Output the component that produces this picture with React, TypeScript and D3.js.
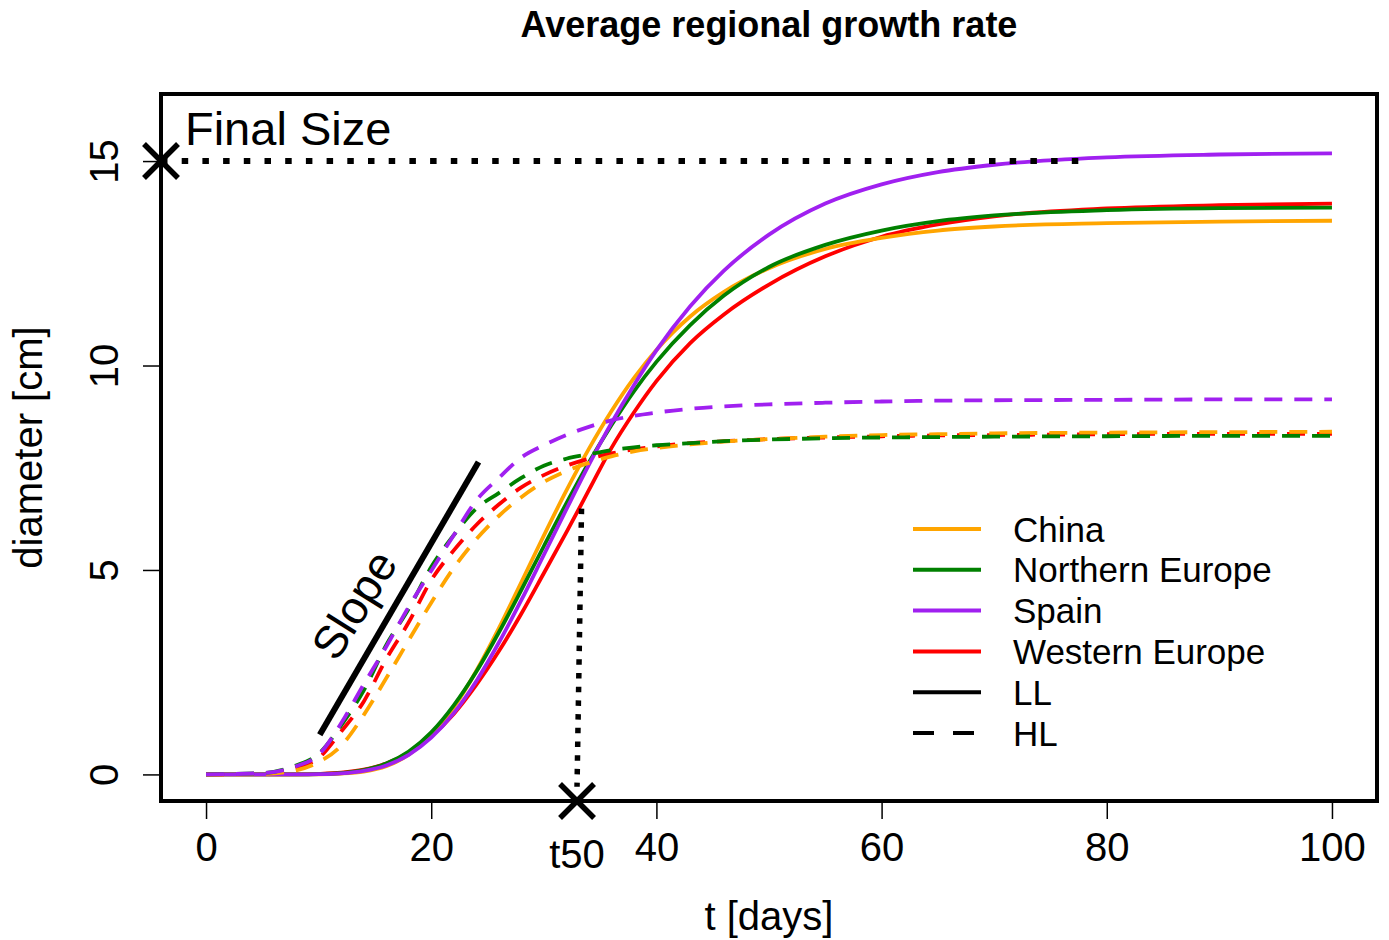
import { useEffect, useRef } from 'react'
import * as d3 from 'd3'

// time grid (days) the curves were read at
const days = [0, 5, 8, 10, 12, 14, 16, 18, 20, 22, 24, 26, 28, 30, 32, 34, 36, 38, 40, 43, 46, 50, 55, 60, 65, 70, 80, 90, 100]

// LL (solid) diameters, cm
const chinaLL = [0, 0, 0, 0.003, 0.02, 0.07, 0.2, 0.48, 0.95, 1.64, 2.53, 3.57, 4.7, 5.84, 6.94, 7.96, 8.88, 9.69, 10.38, 11.2, 11.8, 12.38, 12.85, 13.12, 13.3, 13.4, 13.48, 13.52, 13.54]
const northernEuropeLL = [0, 0, 0.001, 0.008, 0.034, 0.105, 0.265, 0.56, 1.03, 1.69, 2.51, 3.47, 4.51, 5.58, 6.63, 7.63, 8.54, 9.37, 10.09, 10.99, 11.71, 12.41, 12.95, 13.3, 13.53, 13.67, 13.8, 13.85, 13.86]
const spainLL = [0, 0, 0.001, 0.007, 0.028, 0.088, 0.22, 0.48, 0.9, 1.5, 2.28, 3.22, 4.26, 5.37, 6.48, 7.57, 8.59, 9.52, 10.37, 11.45, 12.32, 13.2, 13.96, 14.43, 14.73, 14.91, 15.09, 15.16, 15.19]
const westernEuropeLL = [0, 0, 0.003, 0.013, 0.042, 0.116, 0.265, 0.53, 0.93, 1.48, 2.19, 3.01, 3.93, 4.92, 5.92, 6.95, 7.98, 8.85, 9.62, 10.55, 11.25, 11.98, 12.67, 13.15, 13.45, 13.65, 13.84, 13.92, 13.96]

// HL (dashed) diameters, cm
const chinaHL = [0, 0.01, 0.1, 0.3, 0.7, 1.45, 2.35, 3.28, 4.2, 5.05, 5.75, 6.32, 6.78, 7.15, 7.42, 7.62, 7.78, 7.9, 7.98, 8.07, 8.14, 8.2, 8.26, 8.3, 8.32, 8.34, 8.36, 8.37, 8.38]
const northernEuropeHL = [0, 0.03, 0.22, 0.5, 1.2, 2.05, 3.16, 4.05, 5.07, 5.85, 6.5, 6.88, 7.25, 7.55, 7.72, 7.83, 7.93, 8.0, 8.05, 8.1, 8.15, 8.19, 8.22, 8.24, 8.25, 8.26, 8.27, 8.28, 8.28]
const spainHL = [0, 0.03, 0.2, 0.48, 1.25, 2.2, 3.12, 4.1, 4.98, 5.85, 6.7, 7.25, 7.75, 8.05, 8.3, 8.5, 8.66, 8.77, 8.85, 8.94, 9.0, 9.05, 9.09, 9.12, 9.14, 9.15, 9.16, 9.17, 9.17]
const westernEuropeHL = [0, 0.02, 0.17, 0.4, 1.05, 1.78, 2.82, 3.72, 4.75, 5.48, 6.1, 6.6, 7.02, 7.32, 7.55, 7.72, 7.85, 7.95, 8.02, 8.1, 8.15, 8.2, 8.24, 8.27, 8.29, 8.3, 8.32, 8.33, 8.33]

const regions = ['China', 'Northern Europe', 'Spain', 'Western Europe']
const regionColors = ['#FFA500', '#008000', '#A020F0', '#FF0000']
const xTicks = [0, 20, 40, 60, 80, 100]
const yTicks = [0, 5, 10, 15]

// annotations
const finalSize = 15
const finalSizeEnd = 78
const t50 = 32.95
const t50Top = 6.5
const slopeStart = [10.1, 0.97]
const slopeEnd = [24.2, 7.64]

const W = 1389
const H = 940
const font = '"Liberation Sans", Arial, Helvetica, sans-serif'

const App = () => {
  const svgRef = useRef(null)

  useEffect(() => {
    const svg = d3.select(svgRef.current)
    svg.selectAll('*').remove()

    const x = d3.scaleLinear().domain([-4, 104]).range([161, 1377])
    const y = d3.scaleLinear().domain([-0.65, 16.64]).range([801, 94])

    svg.append('rect').attr('width', W).attr('height', H).attr('fill', 'white')

    // title
    svg
      .append('text')
      .attr('x', (x(-4) + x(104)) / 2)
      .attr('y', 37)
      .attr('text-anchor', 'middle')
      .style('font', `bold 36px ${font}`)
      .text('Average regional growth rate')

    const line = d3
      .line<number>()
      .x((d, i) => x(days[i]))
      .y((d) => y(d))
      .curve(d3.curveMonotoneX)

    const solid = [chinaLL, northernEuropeLL, spainLL, westernEuropeLL]
    const dashed = [chinaHL, northernEuropeHL, spainHL, westernEuropeHL]
    const drawOrder = [3, 0, 1, 2] // red, orange, green, purple

    drawOrder.forEach((k) => {
      svg
        .append('path')
        .attr('d', line(solid[k]))
        .attr('fill', 'none')
        .attr('stroke', regionColors[k])
        .attr('stroke-width', 3.8)
    })
    drawOrder.forEach((k) => {
      svg
        .append('path')
        .attr('d', line(dashed[k]))
        .attr('fill', 'none')
        .attr('stroke', regionColors[k])
        .attr('stroke-width', 3.8)
        .attr('stroke-dasharray', '18 12')
    })

    // Final size dotted line + cross
    svg
      .append('line')
      .attr('x1', x(-4))
      .attr('x2', x(finalSizeEnd))
      .attr('y1', y(finalSize))
      .attr('y2', y(finalSize))
      .attr('stroke', 'black')
      .attr('stroke-width', 6)
      .attr('stroke-dasharray', '6.5 14.2')

    // t50 dotted line
    svg
      .append('line')
      .attr('x1', x(t50 + 0.4))
      .attr('y1', y(t50Top))
      .attr('x2', x(t50))
      .attr('y2', y(-0.3))
      .attr('stroke', 'black')
      .attr('stroke-width', 5.5)
      .attr('stroke-dasharray', '5.5 8.2')

    // slope line
    svg
      .append('line')
      .attr('x1', x(slopeStart[0]))
      .attr('y1', y(slopeStart[1]))
      .attr('x2', x(slopeEnd[0]))
      .attr('y2', y(slopeEnd[1]))
      .attr('stroke', 'black')
      .attr('stroke-width', 6)

    svg
      .append('text')
      .attr('transform', `translate(${x(13.15)},${y(4.15)}) rotate(-58)`)
      .attr('text-anchor', 'middle')
      .attr('dominant-baseline', 'central')
      .style('font', `46px ${font}`)
      .text('Slope')

    svg
      .append('text')
      .attr('x', x(-1.87))
      .attr('y', y(15.39))
      .style('font', `47px ${font}`)
      .text('Final Size')

    // box
    svg
      .append('rect')
      .attr('x', x(-4))
      .attr('y', y(16.64))
      .attr('width', x(104) - x(-4))
      .attr('height', y(-0.65) - y(16.64))
      .attr('fill', 'none')
      .attr('stroke', 'black')
      .attr('stroke-width', 4)

    // crosses
    const cross = (cx, cy) => {
      const r = 17
      svg
        .append('path')
        .attr('d', `M${cx - r},${cy - r}L${cx + r},${cy + r}M${cx - r},${cy + r}L${cx + r},${cy - r}`)
        .attr('stroke', 'black')
        .attr('stroke-width', 5.5)
        .attr('fill', 'none')
    }
    cross(x(-4), y(finalSize))
    cross(x(t50), y(-0.65))

    // x axis
    const xAxis = svg
      .append('g')
      .attr('transform', `translate(0,${y(-0.65)})`)
      .call(d3.axisBottom(x).tickValues(xTicks).tickSize(18).tickPadding(14).tickFormat(d3.format('d')))
    xAxis.select('.domain').remove()
    xAxis.selectAll('line').attr('stroke-width', 1.5)
    xAxis.selectAll('text').style('font', `40px ${font}`).attr('fill', 'black')

    svg
      .append('text')
      .attr('x', x(t50))
      .attr('y', 868)
      .attr('text-anchor', 'middle')
      .style('font', `40px ${font}`)
      .text('t50')

    // y axis
    const yAxis = svg
      .append('g')
      .attr('transform', `translate(${x(-4)},0)`)
      .call(d3.axisLeft(y).tickValues(yTicks).tickSize(18).tickFormat(d3.format('d')))
    yAxis.select('.domain').remove()
    yAxis.selectAll('line').attr('stroke-width', 1.5)
    yAxis
      .selectAll('text')
      .attr('x', null)
      .attr('dy', null)
      .attr('text-anchor', 'middle')
      .attr('transform', 'translate(-43,0) rotate(-90)')
      .attr('fill', 'black')
      .style('font', `40px ${font}`)

    // axis titles
    svg
      .append('text')
      .attr('x', (x(-4) + x(104)) / 2)
      .attr('y', 930)
      .attr('text-anchor', 'middle')
      .style('font', `40px ${font}`)
      .text('t [days]')

    svg
      .append('text')
      .attr('transform', `translate(42,${(y(-0.65) + y(16.64)) / 2}) rotate(-90)`)
      .attr('text-anchor', 'middle')
      .style('font', `40px ${font}`)
      .text('diameter [cm]')

    // legend
    const legendItems = [
      ...regions.map((r, i) => ({ label: r, color: regionColors[i], dash: null })),
      { label: 'LL', color: 'black', dash: null },
      { label: 'HL', color: 'black', dash: '21 19' },
    ]
    const legend = svg.append('g').attr('transform', 'translate(913,529)')
    legendItems.forEach((d, i) => {
      const g = legend.append('g').attr('transform', `translate(0,${i * 40.8})`)
      g.append('line')
        .attr('x1', 0)
        .attr('x2', 68)
        .attr('stroke', d.color)
        .attr('stroke-width', 4)
        .attr('stroke-dasharray', d.dash)
      g.append('text')
        .attr('x', 100)
        .attr('dy', '0.36em')
        .style('font', `35px ${font}`)
        .text(d.label)
    })
  }, [])

  return <svg ref={svgRef} width={W} height={H} style={{ position: 'absolute', left: 0, top: 0 }} />
}

export default App
